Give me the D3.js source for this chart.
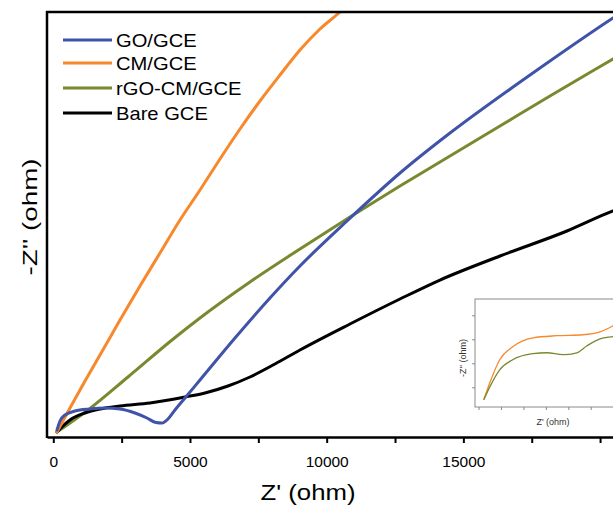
<!DOCTYPE html>
<html><head><meta charset="utf-8">
<script src="https://cdn.jsdelivr.net/npm/d3@7/dist/d3.min.js"></script>
<style>
html,body{margin:0;padding:0;background:#fff;}
svg{display:block;font-family:"Liberation Sans",Arial,sans-serif;}
</style></head>
<body>
<svg id="chart" width="613" height="506"></svg>
<script>
// ---------- data (ohm) ----------
const seriesNames = ["GO/GCE", "CM/GCE", "rGO-CM/GCE", "Bare GCE"];
const seriesColors = ["#3f53a8", "#f7882b", "#78892f", "#000000"];

const goX = [135,245,428,794,1342,1891,2440,2988,3427,3756,3976,4195,4451,4817,5366,6646,7926,9023,10743,12682,14510,16815,17802,20472,21094];
const goY = [256,585,805,951,1024,1061,1024,878,695,530,512,658,988,1426,2085,3621,5084,6254,7900,9656,11119,12802,13497,15325,15728];

const cmX = [135,611,1160,1708,2440,3171,3903,4634,5366,6097,6829,7560,8292,9023,9755,10486,11035];
const cmY = [183,1061,2048,2999,4279,5523,6730,7937,9034,10168,11265,12290,13241,14155,14923,15545,16093];

const rgoX = [135,611,1269,2732,4342,5366,7194,9023,10852,12681,14510,16339,18168,20472,21094];
const rgoY = [183,512,988,2195,3548,4353,5669,6876,8047,9181,10278,11375,12472,13826,14191];

const bareX = [135,318,611,1160,1708,2440,3537,4817,5549,6390,7194,8109,9023,10852,12681,14144,16339,18790,20472,21094];
const bareY = [183,366,622,878,1024,1134,1244,1463,1609,1865,2195,2670,3182,4133,5047,5742,6620,7535,8266,8486];

const xTicks = [0,2500,5000,7500,10000,12500,15000,17500,20000];
const xTickLabels = ["0","","5000","","10000","","15000","",""];

// inset (arbitrary units)
const insetCmX = [0.21,0.48,0.92,1.5,2.4,3.47,4.63,5.39,5.97,6.3];
const insetCmY = [0.5,1.21,2.17,2.71,3.08,3.17,3.21,3.33,3.58,3.75];
const insetRgoX = [0.21,0.48,0.92,1.5,2.4,3.02,3.74,4.36,4.81,5.39,5.97,6.3];
const insetRgoY = [0.5,1.04,1.75,2.17,2.42,2.46,2.38,2.46,2.75,3.04,3.13,3.18];
const insetXTicks = [0,1,2,3,4,5,6];
const insetYTicks = [1,2,3,4];

// ---------- chart ----------
const svg = d3.select("#chart");
const x = d3.scaleLinear().domain([-230, 20930]).range([47, 625.5]);
const y = d3.scaleLinear().domain([0, 15545]).range([437, 12]);

svg.append("defs").append("clipPath").attr("id","clip")
  .append("rect").attr("x",47).attr("y",12).attr("width",580).attr("height",425);

const series = [
  {x: goX, y: goY},
  {x: cmX, y: cmY},
  {x: rgoX, y: rgoY},
  {x: bareX, y: bareY}
];
const line = d3.line().x(d=>x(d[0])).y(d=>y(d[1])).curve(d3.curveMonotoneX);
const plot = svg.append("g").attr("clip-path","url(#clip)");
// draw order: green, black, orange, blue
[2,3,1,0].forEach(i=>{
  const pts = series[i].x.map((v,j)=>[v, series[i].y[j]]);
  plot.append("path").attr("d", line(pts)).attr("fill","none")
    .attr("stroke", seriesColors[i]).attr("stroke-width", 3).attr("stroke-linejoin","round").attr("stroke-linecap","round");
});

// inset
const ix = d3.scaleLinear().domain([-0.18, 6]).range([475, 613.7]);
const iy = d3.scaleLinear().domain([0.2, 4.7]).range([407, 299]);
const inset = svg.append("g");
inset.append("rect").attr("x",475).attr("y",299).attr("width",160).attr("height",108)
  .attr("fill","#fff").attr("stroke","#8a8a8a").attr("stroke-width",1);
inset.selectAll(".ixt").data(insetXTicks).join("line")
  .attr("x1",d=>ix(d)).attr("x2",d=>ix(d)).attr("y1",407).attr("y2",410)
  .attr("stroke","#8a8a8a").attr("stroke-width",1);
inset.selectAll(".iyt").data(insetYTicks).join("line")
  .attr("x1",472).attr("x2",475).attr("y1",d=>iy(d)).attr("y2",d=>iy(d))
  .attr("stroke","#8a8a8a").attr("stroke-width",1);
const iline = d3.line().x(d=>ix(d[0])).y(d=>iy(d[1])).curve(d3.curveMonotoneX);
inset.append("clipPath").attr("id","iclip").append("rect").attr("x",475).attr("y",299).attr("width",160).attr("height",108);
const ip = inset.append("g").attr("clip-path","url(#iclip)");
ip.append("path").attr("d", iline(insetCmX.map((v,j)=>[v,insetCmY[j]])))
  .attr("fill","none").attr("stroke",seriesColors[1]).attr("stroke-width",1.3);
ip.append("path").attr("d", iline(insetRgoX.map((v,j)=>[v,insetRgoY[j]])))
  .attr("fill","none").attr("stroke",seriesColors[2]).attr("stroke-width",1.3);
inset.append("text").attr("x",553).attr("y",425).attr("text-anchor","middle")
  .attr("font-size",9).attr("fill","#333").text("Z' (ohm)");
inset.append("text").attr("transform","translate(466,358) rotate(-90)").attr("text-anchor","middle")
  .attr("font-size",9).attr("fill","#333").text("-Z'' (ohm)");

// x axis
const xAxis = d3.axisBottom(x).tickValues(xTicks).tickSize(6).tickPadding(13)
  .tickFormat((d,i)=>xTickLabels[i]).tickSizeOuter(0);
const gx = svg.append("g").attr("transform","translate(0,437)").call(xAxis);
gx.select(".domain").attr("stroke","#000").attr("stroke-width",2.5);
gx.selectAll(".tick line").attr("stroke","#000").attr("stroke-width",2);
gx.selectAll(".tick text").attr("font-size",15.5).attr("fill","#000")
  .attr("font-family","'Liberation Sans',Arial,sans-serif");

// frame left & top
svg.append("line").attr("x1",47).attr("x2",47).attr("y1",11).attr("y2",438).attr("stroke","#000").attr("stroke-width",2.5);
svg.append("line").attr("x1",46).attr("x2",613).attr("y1",12).attr("y2",12).attr("stroke","#000").attr("stroke-width",2.5);

// axis titles
svg.append("text").attr("transform","translate(308,500) scale(1.12,1)").attr("text-anchor","middle")
  .attr("font-size",23).attr("fill","#000").text("Z' (ohm)");
svg.append("text").attr("transform","translate(37,217) rotate(-90)").attr("text-anchor","middle")
  .attr("font-size",21).attr("fill","#000")
  .attr("textLength",117).attr("lengthAdjust","spacingAndGlyphs").text("-Z'' (ohm)");

// legend
const legendY = [40,63,88,113];
const lg = svg.append("g");
seriesNames.forEach((n,i)=>{
  lg.append("line").attr("x1",63).attr("x2",112).attr("y1",legendY[i]).attr("y2",legendY[i])
    .attr("stroke",seriesColors[i]).attr("stroke-width",3);
  lg.append("text").attr("transform",`translate(116,${legendY[i]+6.5}) scale(1.12,1)`)
    .attr("font-size",18).attr("fill","#000").text(n);
});
</script>
</body></html>
